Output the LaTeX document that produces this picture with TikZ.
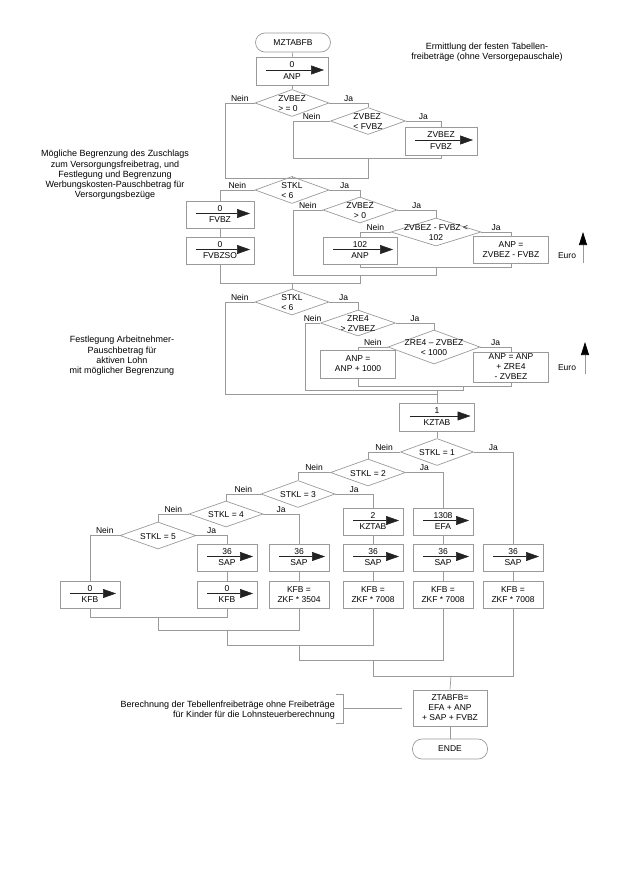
\documentclass[tikz,border=0pt]{standalone}
\usepackage{fontspec}
\setmainfont{Liberation Sans}
\usetikzlibrary{shapes.geometric,arrows.meta}
\definecolor{lc}{HTML}{9A9A9A}
\definecolor{ac}{HTML}{222222}
\newcommand\fs{\fontsize{8.5}{10}\selectfont}
\newcommand\fn{\fontsize{9}{10.3}\selectfont}
\tikzset{
  conn/.style={draw=lc, line width=0.7pt},
  box/.style={conn, rectangle, inner sep=0pt},
  dia/.style={conn, diamond, inner sep=0pt},
  term/.style={conn, rectangle, rounded corners=9.5pt, inner sep=0pt, font=\fs},
  txt/.style={font=\fs, inner sep=0pt, text=black, align=center},
  note/.style={font=\fn, inner sep=0pt, text=black, align=center},
  asg/.style={draw=ac, line width=0.5pt, -{Triangle[length=13pt,width=9pt]}},
  euro/.style={conn, -{Triangle[length=13pt,width=8pt,color=black]}},
  lbl/.style={font=\fs, inner sep=1.2pt, above, pos=0.25},
}
% assignment box: name, x, y, w, h, top, bottom
\newcommand\asgbox[7]{%
  \node[box, minimum width=#4pt, minimum height=#5pt] (#1) at (#2,#3) {};
  \node[txt] (#1t) at (#2,#3-6) {#6};
  \node[txt] (#1b) at (#2,#3+5.5) {#7};
  \draw[asg] (#2-#4/2+10,#3-1) -- (#2+#4/2-4,#3-1);
}
% text box: name, x, y, w, h, text
\newcommand\txtbox[6]{%
  \node[box, minimum width=#4pt, minimum height=#5pt] (#1) at (#2,#3) {};
  \node[txt] (#1t) at (#2,#3) {#6};
}
% decision: name, x, y, w, h, text, align
\newcommand\decis[7]{%
  \node[dia, minimum width=#4pt, minimum height=#5pt] (#1) at (#2,#3) {};
  \node[txt, align=#7] (#1t) at (#2,#3+1) {#6};
}
\begin{document}
\begin{tikzpicture}[x=1pt,y=-1pt]
\useasboundingbox (0,0) rectangle (630,891);

% ---------- notes
\node[note] (n0) at (487,52) {Ermittlung der festen Tabellen-\\freibeträge (ohne Versorgepauschale)};
\node[note] (n1) at (115,175) {Mögliche Begrenzung des Zuschlags\\zum Versorgungsfreibetrag, und\\Festlegung und Begrenzung\\Werbungskosten-Pauschbetrag für\\Versorgungsbezüge};
\node[note] (n2) at (122,356) {Festlegung Arbeitnehmer-\\Pauschbetrag für\\aktiven Lohn\\mit möglicher Begrenzung};
\node[note, anchor=east, align=right] (n3) at (335,710.5) {Berechnung der Tebellenfreibeträge ohne Freibeträge\\für Kinder für die Lohnsteuerberechnung};

% ---------- section 1
\node[term, minimum width=75pt, minimum height=19pt] (T0) at (293,42.5) {MZTABFB};
\asgbox{Banp0}{292}{71}{72}{28}{0}{ANP}
\decis{D1}{292}{103}{74}{27}{ZVBEZ\\> = 0}{left}
\decis{D2}{368}{121}{75}{27}{ZVBEZ\\< FVBZ}{left}
\asgbox{Bfvbz}{441}{141}{72}{28}{ZVBEZ}{FVBZ}
\coordinate (m1a) at (225,178); \coordinate (m1b) at (368,178); \coordinate (m1c) at (292,178);
\coordinate (m2a) at (293,158); \coordinate (m2b) at (441,158); \coordinate (m2c) at (368,158);
\draw[conn] (T0) -- (Banp0);
\draw[conn] (Banp0) -- (D1);
\draw[conn] (D1.west) -| node[lbl]{Nein} (m1a) -- (m1b) -- (m2c);
\draw[conn] (D1.east) -| node[lbl]{Ja} (D2.north);
\draw[conn] (D2.west) -| node[lbl]{Nein} (m2a) -- (m2b) -- (Bfvbz.south);
\draw[conn] (D2.east) -| node[lbl]{Ja} (Bfvbz.north);

% ---------- section 2
\decis{Da}{292}{190}{74}{27}{STKL\\< 6}{left}
\asgbox{Bfv0}{220}{214.5}{68}{27}{0}{FVBZ}
\asgbox{Bfvso}{220}{250.5}{68}{27}{0}{FVBZSO}
\decis{Db}{360}{210}{74}{26}{ZVBEZ\\> 0}{center}
\decis{Dc}{436}{232}{90}{28}{ZVBEZ - FVBZ <\\102}{center}
\asgbox{B102}{360}{250.5}{74}{27}{102}{ANP}
\txtbox{Banpz}{511}{249.5}{75}{27}{ANP =\\ZVBEZ - FVBZ}
\coordinate (ca) at (360,267); \coordinate (cb) at (511,267); \coordinate (cc) at (436,267);
\coordinate (ba) at (293,275); \coordinate (bb) at (436,275); \coordinate (bc) at (360,275);
\coordinate (aa) at (220,283); \coordinate (ab) at (360,283); \coordinate (ac) at (292,283);
\draw[conn] (m1c) -- (Da.north);
\draw[conn] (Da.west) -| node[lbl]{Nein} (Bfv0.north);
\draw[conn] (Bfv0.south) -- (Bfvso.north);
\draw[conn] (Da.east) -| node[lbl]{Ja} (Db.north);
\draw[conn] (Db.east) -| node[lbl]{Ja} (Dc.north);
\draw[conn] (Dc.west) -| node[lbl]{Nein} (B102.north);
\draw[conn] (Dc.east) -| node[lbl]{Ja} (Banpz.north);
\draw[conn] (B102.south) -- (ca) -- (cb) -- (Banpz.south);
\draw[conn] (Db.west) -| node[lbl]{Nein} (ba) -- (bb) -- (cc);
\draw[conn] (Bfvso.south) -- (aa) -- (ab) -- (bc);
\node[txt] (eu1) at (567,256) {Euro};
\coordinate (e1a) at (583,263); \coordinate (e1b) at (583,232);
\draw[euro] (e1a) -- (e1b);

% ---------- section 3
\decis{Dd}{292}{302}{74}{26}{STKL\\< 6}{left}
\decis{De}{358}{323}{75}{26}{ZRE4\\> ZVBEZ}{center}
\decis{Df}{434}{347}{92}{34}{ZRE4 – ZVBEZ\\< 1000}{center}
\txtbox{B1000}{358}{364}{75}{28}{ANP =\\ANP + 1000}
\txtbox{Bzre}{511}{367}{75}{30}{ANP = ANP\\+ ZRE4\\- ZVBEZ}
\coordinate (ga) at (358,386); \coordinate (gb) at (511,386); \coordinate (gc) at (463,386);
\coordinate (ea) at (305,390); \coordinate (eb) at (463,390); \coordinate (ec) at (437,390);
\coordinate (fa) at (225,394); \coordinate (fb) at (437,394);
\draw[conn] (ac) -- (Dd.north);
\draw[conn] (Dd.east) -| node[lbl]{Ja} (De.north);
\draw[conn] (De.east) -| node[lbl]{Ja} (Df.north);
\draw[conn] (Df.west) -| node[lbl]{Nein} (B1000.north);
\draw[conn] (Df.east) -| node[lbl]{Ja} (Bzre.north);
\draw[conn] (B1000.south) -- (ga) -- (gb) -- (Bzre.south);
\draw[conn] (De.west) -| node[lbl]{Nein} (ea) -- (eb) -- (gc);
\draw[conn] (Dd.west) -| node[lbl]{Nein} (fa) -- (fb) -- (ec);
\node[txt] (eu2) at (567,368) {Euro};
\coordinate (e2a) at (585,374); \coordinate (e2b) at (585,342);
\draw[euro] (e2a) -- (e2b);

% ---------- section 4
\asgbox{Bkz1}{437}{417}{75}{28}{1}{KZTAB}
\draw[conn] (fb) -- (Bkz1.north);
\decis{S1}{437}{452}{73}{27}{STKL = 1}{center}
\decis{S2}{368}{472.5}{75}{27}{STKL = 2}{center}
\decis{S3}{298}{494}{74}{27}{STKL = 3}{center}
\decis{S4}{226}{514}{74}{26}{STKL = 4}{center}
\decis{S5}{158}{535.5}{76}{27}{STKL = 5}{center}
\asgbox{KZ2}{373}{521.5}{60}{27}{2}{KZTAB}
\asgbox{EFA}{443}{521.5}{60}{27}{1308}{EFA}
\asgbox{SAP1}{227}{557.5}{60}{27}{36}{SAP}
\asgbox{SAP2}{299}{557.5}{60}{27}{36}{SAP}
\asgbox{SAP3}{373}{557.5}{60}{27}{36}{SAP}
\asgbox{SAP4}{443}{557.5}{60}{27}{36}{SAP}
\asgbox{SAP5}{513}{557.5}{60}{27}{36}{SAP}
\asgbox{KFB0}{90}{594.5}{60}{27}{0}{KFB}
\asgbox{KFB1}{227}{594.5}{60}{27}{0}{KFB}
\txtbox{KFB2}{299}{594.5}{60}{27}{KFB =\\ZKF * 3504}
\txtbox{KFB3}{373}{594.5}{60}{27}{KFB =\\ZKF * 7008}
\txtbox{KFB4}{443}{594.5}{60}{27}{KFB =\\ZKF * 7008}
\txtbox{KFB5}{513}{594.5}{60}{27}{KFB =\\ZKF * 7008}
\draw[conn] (Bkz1) -- (S1);
\draw[conn] (S1.west) -| node[lbl]{Nein} (S2.north);
\draw[conn] (S1.east) -| node[lbl]{Ja} (SAP5.north);
\draw[conn] (S2.west) -| node[lbl]{Nein} (S3.north);
\draw[conn] (S2.east) -| node[lbl]{Ja} (EFA.north);
\draw[conn] (S3.west) -| node[lbl]{Nein} (S4.north);
\draw[conn] (S3.east) -| node[lbl]{Ja} (KZ2.north);
\draw[conn] (S4.west) -| node[lbl]{Nein} (S5.north);
\draw[conn] (S4.east) -| node[lbl]{Ja} (SAP2.north);
\draw[conn] (S5.west) -| node[lbl]{Nein} (KFB0.north);
\draw[conn] (S5.east) -| node[lbl]{Ja} (SAP1.north);
\draw[conn] (KZ2) -- (SAP3);
\draw[conn] (EFA) -- (SAP4);
\draw[conn] (SAP1) -- (KFB1);
\draw[conn] (SAP2) -- (KFB2);
\draw[conn] (SAP3) -- (KFB3);
\draw[conn] (SAP4) -- (KFB4);
\draw[conn] (SAP5) -- (KFB5);
\coordinate (q5a) at (90,617);  \coordinate (q5b) at (227,617); \coordinate (q5c) at (158,617);
\coordinate (q4a) at (158,630); \coordinate (q4b) at (299,630); \coordinate (q4c) at (227,630);
\coordinate (q3a) at (227,645); \coordinate (q3b) at (373,645); \coordinate (q3c) at (299,645);
\coordinate (q2a) at (299,660); \coordinate (q2b) at (443,660); \coordinate (q2c) at (373,660);
\coordinate (q1a) at (373,676); \coordinate (q1b) at (513,676); \coordinate (q1c) at (451,676);
\draw[conn] (KFB0.south) -- (q5a) -- (q5b) -- (KFB1.south);
\draw[conn] (q5c) -- (q4a) -- (q4b) -- (KFB2.south);
\draw[conn] (q4c) -- (q3a) -- (q3b) -- (KFB3.south);
\draw[conn] (q3c) -- (q2a) -- (q2b) -- (KFB4.south);
\draw[conn] (q2c) -- (q1a) -- (q1b) -- (KFB5.south);

\txtbox{ZT}{450}{708}{74}{36}{ZTABFB=\\EFA + ANP\\+ SAP + FVBZ}
\draw[conn] (q1c) -- (ZT.north);
\node[term, minimum width=75pt, minimum height=20pt] (T1) at (450,749) {ENDE};
\draw[conn] (ZT) -- (T1);

% bracket of bottom note
\coordinate (k1) at (336,694); \coordinate (k2) at (343,694);
\coordinate (k3) at (343,723); \coordinate (k4) at (336,723);
\coordinate (k5) at (343,708); \coordinate (k6) at (402,708);
\draw[conn] (k1) -- (k2) -- (k3) -- (k4);
\draw[conn] (k5) -- (k6);
\end{tikzpicture}
\end{document}
